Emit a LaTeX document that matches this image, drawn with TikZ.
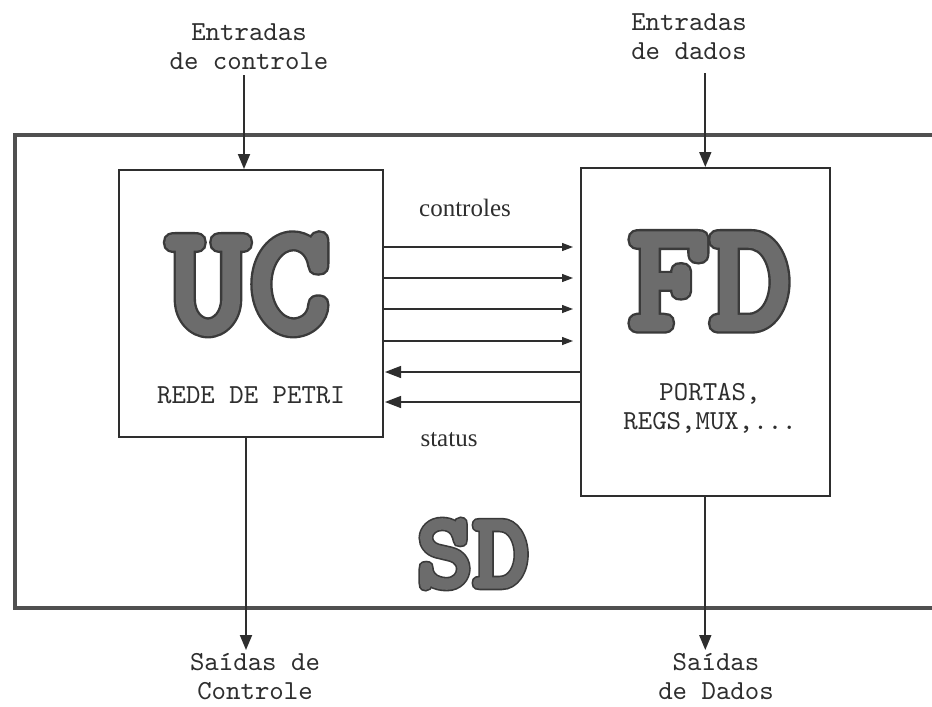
\documentclass[tikz,border=0pt]{standalone}
\usepackage{fontspec}
\setmainfont{Liberation Serif}
\newfontfamily\labelfont{lmmono10-regular.otf}
\newfontfamily\bigfill{lmmonolt10-bold.otf}[FakeBold=3]
\newfontfamily\bigout{lmmonolt10-bold.otf}[FakeBold=6]
\usetikzlibrary{arrows.meta}
\definecolor{ink}{HTML}{2e2e2e}
\definecolor{framecol}{HTML}{505050}
\definecolor{letterfill}{HTML}{6c6c6c}
\definecolor{letteredge}{HTML}{3a3a3a}
\newcommand{\biglabel}[1]{{\color{letteredge}\bigout\rlap{#1}}{\color{letterfill}\bigfill #1}}
\tikzset{
  box/.style={draw=ink, line width=1.6pt, fill=white, inner sep=0pt, anchor=north west},
  outerbox/.style={draw=framecol, line width=4pt, inner sep=0pt, anchor=north west},
  lbl/.style={font=\labelfont\fontsize{27.5}{29}\selectfont, align=center, text=ink, inner sep=0pt},
  serif/.style={font=\fontsize{25}{30}\selectfont, text=ink, inner sep=0pt},
  bigtext/.style={font=\fontsize{156}{156}\selectfont, inner sep=0pt, anchor=base},
  sdtext/.style={font=\fontsize{108}{108}\selectfont, inner sep=0pt, anchor=base},
  wire/.style={draw=ink, line width=1.8pt, -{Triangle[length=15pt,width=12pt]}},
  ctrl/.style={draw=ink, line width=1.3pt, -{Triangle[length=11pt,width=8pt]}},
  stat/.style={draw=ink, line width=1.3pt, -{Triangle[length=16pt,width=12pt]}}
}
\begin{document}
\begin{tikzpicture}[x=1pt,y=-1pt]
\useasboundingbox (0,0) rectangle (932,707);
\fill[white] (0,0) rectangle (932,707);
\begin{scope}
\clip (0,0) rectangle (932,707);
\node[outerbox, minimum width=945pt, minimum height=473pt] (sd) at (13,133) {};
\end{scope}
\node[box, minimum width=264pt, minimum height=267pt] (uc) at (118,169) {};
\node[box, minimum width=249pt, minimum height=328pt] (fd) at (580,167) {};

% big titles
\node[bigtext] (uctitle) at (249,332) {\biglabel{UC}};
\node[bigtext] (fdtitle) at (710,329) {\biglabel{FD}};
\node[sdtext] (sdtitle) at (473,587) {\biglabel{SD}};

% inner labels
\node[lbl] (petri) at (251,395) {REDE DE PETRI};
\node[lbl] (portas) at (710,408) {PORTAS,\\REGS,MUX,...};
\node[serif] (controles) at (465,208) {controles};
\node[serif] (status) at (449,440) {status};

% outside labels
\node[lbl] (entc) at (249,47) {Entradas\\de controle};
\node[lbl] (entd) at (689,37) {Entradas\\de dados};
\node[lbl] (saic) at (255,677) {Saídas de\\Controle};
\node[lbl] (said) at (716,677) {Saídas\\de Dados};

% input / output arrows
\coordinate (ecin) at (244,75);
\coordinate (edin) at (fd.north |- 0,73);
\coordinate (ecout) at (246,650);
\coordinate (edout) at (fd.south |- 0,650);
\draw[wire] (ecin) -- (ecin |- uc.north);
\draw[wire] (edin) -- (fd.north);
\draw[wire] (ecout |- uc.south) -- (ecout);
\draw[wire] (fd.south) -- (edout);

% control arrows
\coordinate (c1) at (573,247);
\coordinate (c2) at (573,278);
\coordinate (c3) at (573,309);
\coordinate (c4) at (573,341);
\foreach \c in {c1,c2,c3,c4}{
  \draw[ctrl] (\c -| uc.east) -- (\c);
}
% status arrows
\coordinate (s1) at (385,372);
\coordinate (s2) at (385,402);
\foreach \s in {s1,s2}{
  \draw[stat] (\s -| fd.west) -- (\s);
}
\end{tikzpicture}
\end{document}
